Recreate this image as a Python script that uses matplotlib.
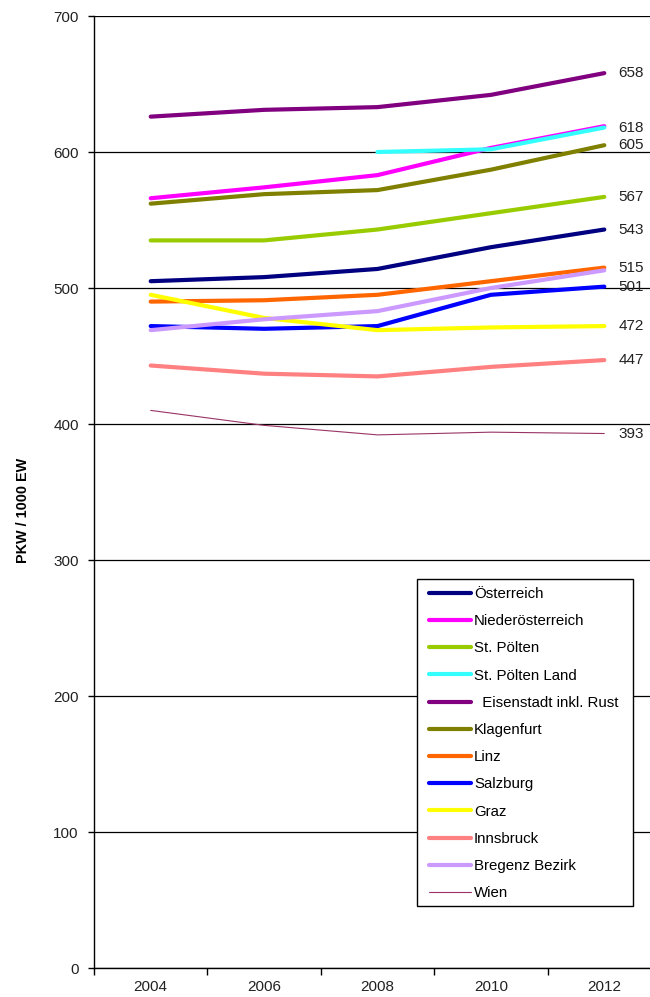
import numpy as np
import matplotlib
matplotlib.use("Agg")
import matplotlib.pyplot as plt
from matplotlib.ticker import FixedLocator, NullFormatter, FixedFormatter
from matplotlib.patches import Rectangle

plt.rcParams['font.family'] = ['Liberation Sans', 'DejaVu Sans']

years = ["2004", "2006", "2008", "2010", "2012"]
nan = np.nan

series_names = ["Österreich", "Niederösterreich", "St. Pölten", "St. Pölten Land",
                "  Eisenstadt inkl. Rust", "Klagenfurt", "Linz", "Salzburg", "Graz",
                "Innsbruck", "Bregenz Bezirk", "Wien"]

oesterreich = [505, 508, 514, 530, 543]
niederoesterreich = [566, 574, 583, 603, 619]
st_poelten = [535, 535, 543, 555, 567]
st_poelten_land = [nan, nan, 600, 602, 618]
eisenstadt = [626, 631, 633, 642, 658]
klagenfurt = [562, 569, 572, 587, 605]
linz = [490, 491, 495, 505, 515]
salzburg = [472, 470, 472, 495, 501]
graz = [495, 478, 469, 471, 472]
innsbruck = [443, 437, 435, 442, 447]
bregenz = [469, 477, 483, 500, 513]
wien = [410, 399, 392, 394, 393]

all_values = [oesterreich, niederoesterreich, st_poelten, st_poelten_land, eisenstadt,
              klagenfurt, linz, salzburg, graz, innsbruck, bregenz, wien]

colors = ["#000080", "#FF00FF", "#99CC00", "#33FFFF", "#800080", "#808000",
          "#FF6600", "#0000FF", "#FFFF00", "#FF8080", "#CC99FF", "#993366"]
widths = [3.0] * 11 + [0.8]

# series that carry an end label (index into all_values)
labelled = [4, 3, 5, 2, 0, 6, 7, 8, 9, 11]

W, H = 650, 997
fig = plt.figure(figsize=(W / 100, H / 100), dpi=100)
ax = fig.add_axes([94 / W, 29 / H, (661 - 94) / W, (968 - 16) / H])

x = np.arange(len(years))
for name, vals, c, w in zip(series_names, all_values, colors, widths):
    ax.plot(x, vals, color=c, lw=w, label=name, solid_capstyle='round',
            solid_joinstyle='round')

for i in labelled:
    v = all_values[i][-1]
    ax.annotate(f"{v:.0f}", (x[-1], v), xytext=(10, 0), textcoords='offset points',
                va='center', ha='left', fontsize=11, color='#222222')

ax.set_xlim(-0.5, len(years) - 0.5)
ax.set_ylim(0, 700)
ax.set_yticks(np.arange(0, 701, 100))
ax.yaxis.grid(True, color='black', lw=0.9)
ax.set_axisbelow(True)

ax.xaxis.set_major_locator(FixedLocator(np.arange(-0.5, len(years), 1.0)))
ax.xaxis.set_major_formatter(NullFormatter())
ax.xaxis.set_minor_locator(FixedLocator(x))
ax.xaxis.set_minor_formatter(FixedFormatter(years))
ax.tick_params(axis='x', which='major', length=5, width=1, direction='out')
ax.tick_params(axis='x', which='minor', length=0, labelsize=11, pad=8.5,
               labelcolor='#222222')
ax.tick_params(axis='y', length=4.5, width=1, labelsize=11, pad=6.5,
               labelcolor='#222222')

ax.spines['top'].set_visible(False)
ax.spines['right'].set_visible(False)
ax.spines['left'].set_linewidth(1)
ax.spines['bottom'].set_linewidth(1)

ax.set_ylabel("PKW / 1000 EW", fontsize=10.4, fontweight='bold')
ax.yaxis.set_label_coords((30 - 94) / 567, (968 - 510) / 952)

# legend box (white, covers gridlines)
box = Rectangle((417 / W, 1 - 906 / H), (633 - 417) / W, (906 - 579) / H,
                transform=fig.transFigure, facecolor='white', edgecolor='black',
                lw=1, zorder=4, clip_on=False)
ax.add_patch(box)

leg = ax.legend(loc='upper left', bbox_to_anchor=(429 / W, 1 - 587 / H),
                bbox_transform=fig.transFigure, borderaxespad=0, borderpad=0,
                fontsize=10.8, frameon=False,
                handlelength=2.8, handletextpad=0.2, labelspacing=0.88)
leg.set_zorder(6)

fig.savefig("out.png", dpi=100)
